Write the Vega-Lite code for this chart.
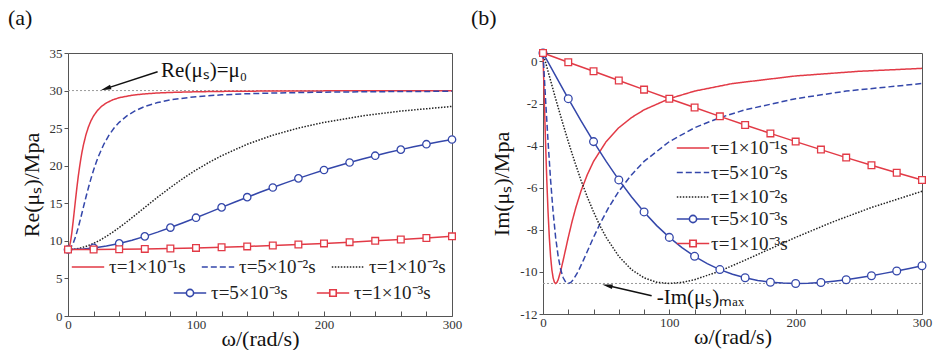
{
"$schema": "https://vega.github.io/schema/vega-lite/v6.json",
"padding": {"left": 7, "right": 0, "top": 6, "bottom": 0},
"spacing": 7,
"background": "white",
"config": {
  "font": "Liberation Serif",
  "view": {"stroke": "#555", "strokeWidth": 1},
  "axis": {"grid": false, "domain": false, "labelFont": "Liberation Serif", "labelFontSize": 13, "labelColor": "#333", "titleFont": "Liberation Serif", "titleFontSize": 22, "titleFontWeight": "normal", "titleColor": "#111", "tickColor": "#555", "labelPadding": 2, "labelOverlap": false, "labelFlush": false},
  "legend": {"labelFont": "Liberation Serif", "labelFontSize": 19, "labelColor": "#222", "title": null, "symbolSize": 324, "symbolStrokeWidth": 1.6, "symbolType": "M-1.8,0H1.8"},
  "title": {"font": "Liberation Serif", "fontSize": 22, "fontWeight": "normal", "color": "#111", "anchor": "start", "frame": "group", "offset": 17}
},
"datasets": {
 "curves": [
  {"t":"A","w":0,"re":8.85,"im":0.4},{"t":"A","w":1,"re":9.13,"im":-1.77},{"t":"A","w":2,"re":9.91,"im":-3.81},{"t":"A","w":3,"re":11.10,"im":-5.63},{"t":"A","w":4,"re":12.54,"im":-7.15},{"t":"A","w":5,"re":14.11,"im":-8.36},{"t":"A","w":6,"re":15.67,"im":-9.26},{"t":"A","w":7,"re":17.17,"im":-9.89},{"t":"A","w":8,"re":18.55,"im":-10.28},{"t":"A","w":9,"re":19.79,"im":-10.49},{"t":"A","w":10,"re":20.89,"im":-10.55},{"t":"A","w":11,"re":21.87,"im":-10.50},{"t":"A","w":12,"re":22.72,"im":-10.37},{"t":"A","w":14,"re":24.11,"im":-9.96},{"t":"A","w":16,"re":25.18,"im":-9.44},{"t":"A","w":18,"re":26.00,"im":-8.90},{"t":"A","w":20,"re":26.64,"im":-8.36},{"t":"A","w":23,"re":27.35,"im":-7.61},{"t":"A","w":26,"re":27.87,"im":-6.94},{"t":"A","w":30,"re":28.36,"im":-6.17},{"t":"A","w":35,"re":28.77,"im":-5.39},{"t":"A","w":40,"re":29.05,"im":-4.75},{"t":"A","w":50,"re":29.38,"im":-3.81},{"t":"A","w":60,"re":29.56,"im":-3.15},{"t":"A","w":70,"re":29.68,"im":-2.67},{"t":"A","w":80,"re":29.75,"im":-2.30},{"t":"A","w":100,"re":29.84,"im":-1.77},{"t":"A","w":120,"re":29.89,"im":-1.41},{"t":"A","w":150,"re":29.93,"im":-1.05},{"t":"A","w":200,"re":29.96,"im":-0.69},{"t":"A","w":250,"re":29.97,"im":-0.47},{"t":"A","w":300,"re":29.98,"im":-0.33},
  {"t":"B","w":0,"re":8.85,"im":0.4},{"t":"B","w":2,"re":9.06,"im":-1.77},{"t":"B","w":4,"re":9.66,"im":-3.81},{"t":"B","w":6,"re":10.60,"im":-5.63},{"t":"B","w":8,"re":11.77,"im":-7.15},{"t":"B","w":10,"re":13.08,"im":-8.36},{"t":"B","w":12,"re":14.45,"im":-9.26},{"t":"B","w":14,"re":15.81,"im":-9.89},{"t":"B","w":16,"re":17.10,"im":-10.28},{"t":"B","w":18,"re":18.32,"im":-10.49},{"t":"B","w":20,"re":19.43,"im":-10.55},{"t":"B","w":22,"re":20.43,"im":-10.50},{"t":"B","w":24,"re":21.33,"im":-10.37},{"t":"B","w":28,"re":22.86,"im":-9.96},{"t":"B","w":32,"re":24.06,"im":-9.44},{"t":"B","w":36,"re":25.01,"im":-8.90},{"t":"B","w":40,"re":25.77,"im":-8.36},{"t":"B","w":46,"re":26.64,"im":-7.61},{"t":"B","w":52,"re":27.27,"im":-6.94},{"t":"B","w":60,"re":27.89,"im":-6.17},{"t":"B","w":70,"re":28.40,"im":-5.39},{"t":"B","w":80,"re":28.76,"im":-4.75},{"t":"B","w":100,"re":29.19,"im":-3.81},{"t":"B","w":120,"re":29.43,"im":-3.15},{"t":"B","w":140,"re":29.58,"im":-2.67},{"t":"B","w":160,"re":29.67,"im":-2.30},{"t":"B","w":200,"re":29.79,"im":-1.77},{"t":"B","w":240,"re":29.85,"im":-1.41},{"t":"B","w":300,"re":29.91,"im":-1.05},
  {"t":"C","w":0,"re":8.85,"im":0.4},{"t":"C","w":5,"re":8.90,"im":-0.69},{"t":"C","w":10,"re":9.06,"im":-1.77},{"t":"C","w":15,"re":9.32,"im":-2.81},{"t":"C","w":20,"re":9.66,"im":-3.81},{"t":"C","w":25,"re":10.09,"im":-4.75},{"t":"C","w":30,"re":10.60,"im":-5.63},{"t":"C","w":35,"re":11.16,"im":-6.43},{"t":"C","w":40,"re":11.77,"im":-7.15},{"t":"C","w":45,"re":12.41,"im":-7.80},{"t":"C","w":50,"re":13.08,"im":-8.36},{"t":"C","w":60,"re":14.45,"im":-9.26},{"t":"C","w":70,"re":15.81,"im":-9.89},{"t":"C","w":80,"re":17.10,"im":-10.28},{"t":"C","w":90,"re":18.32,"im":-10.49},{"t":"C","w":100,"re":19.43,"im":-10.55},{"t":"C","w":110,"re":20.43,"im":-10.50},{"t":"C","w":120,"re":21.33,"im":-10.37},{"t":"C","w":140,"re":22.86,"im":-9.96},{"t":"C","w":160,"re":24.06,"im":-9.44},{"t":"C","w":180,"re":25.01,"im":-8.90},{"t":"C","w":200,"re":25.77,"im":-8.36},{"t":"C","w":230,"re":26.64,"im":-7.61},{"t":"C","w":260,"re":27.27,"im":-6.94},{"t":"C","w":300,"re":27.89,"im":-6.17},
  {"t":"D","w":0,"re":8.85,"im":0.4},{"t":"D","w":10,"re":8.90,"im":-0.69},{"t":"D","w":20,"re":9.06,"im":-1.77},{"t":"D","w":30,"re":9.32,"im":-2.81},{"t":"D","w":40,"re":9.66,"im":-3.81},{"t":"D","w":50,"re":10.09,"im":-4.75},{"t":"D","w":60,"re":10.60,"im":-5.63},{"t":"D","w":70,"re":11.16,"im":-6.43},{"t":"D","w":80,"re":11.77,"im":-7.15},{"t":"D","w":90,"re":12.41,"im":-7.80},{"t":"D","w":100,"re":13.08,"im":-8.36},{"t":"D","w":110,"re":13.76,"im":-8.85},{"t":"D","w":120,"re":14.45,"im":-9.26},{"t":"D","w":130,"re":15.13,"im":-9.61},{"t":"D","w":140,"re":15.81,"im":-9.89},{"t":"D","w":150,"re":16.46,"im":-10.11},{"t":"D","w":160,"re":17.10,"im":-10.28},{"t":"D","w":170,"re":17.72,"im":-10.41},{"t":"D","w":180,"re":18.32,"im":-10.49},{"t":"D","w":190,"re":18.88,"im":-10.53},{"t":"D","w":200,"re":19.43,"im":-10.55},{"t":"D","w":210,"re":19.94,"im":-10.54},{"t":"D","w":220,"re":20.43,"im":-10.50},{"t":"D","w":230,"re":20.89,"im":-10.44},{"t":"D","w":240,"re":21.33,"im":-10.37},{"t":"D","w":250,"re":21.75,"im":-10.28},{"t":"D","w":260,"re":22.14,"im":-10.18},{"t":"D","w":270,"re":22.51,"im":-10.07},{"t":"D","w":280,"re":22.86,"im":-9.96},{"t":"D","w":290,"re":23.18,"im":-9.84},{"t":"D","w":300,"re":23.49,"im":-9.71},
  {"t":"E","w":0,"re":8.85,"im":0.4},{"t":"E","w":20,"re":8.86,"im":-0.04},{"t":"E","w":40,"re":8.88,"im":-0.47},{"t":"E","w":60,"re":8.93,"im":-0.91},{"t":"E","w":80,"re":8.98,"im":-1.34},{"t":"E","w":100,"re":9.06,"im":-1.77},{"t":"E","w":120,"re":9.15,"im":-2.19},{"t":"E","w":140,"re":9.26,"im":-2.61},{"t":"E","w":160,"re":9.38,"im":-3.02},{"t":"E","w":180,"re":9.51,"im":-3.42},{"t":"E","w":200,"re":9.66,"im":-3.81},{"t":"E","w":220,"re":9.83,"im":-4.19},{"t":"E","w":240,"re":10.00,"im":-4.57},{"t":"E","w":260,"re":10.19,"im":-4.93},{"t":"E","w":280,"re":10.39,"im":-5.29},{"t":"E","w":300,"re":10.60,"im":-5.63}
 ]
},
"resolve": {"scale": {"x": "independent", "y": "independent", "color": "independent", "strokeDash": "independent"}, "legend": {"color": "independent", "strokeDash": "independent"}},
"hconcat": [
 {
  "width": 384, "height": 263,
  "title": {"text": "(a)", "dx": -60},
  "encoding": {
    "x": {"field": "w", "type": "quantitative", "scale": {"domain": [0, 300], "nice": false}, "axis": {"values": [0,20,40,60,80,100,120,140,160,180,200,220,240,260,280,300], "labelExpr": "datum.value % 100 === 0 ? datum.label : ''", "tickSize": -5, "labelPadding": 7, "title": "ω/(rad/s)", "titlePadding": -3}},
    "y": {"field": "re", "type": "quantitative", "scale": {"domain": [0, 35], "nice": false}, "axis": {"values": [0,5,10,15,20,25,30,35], "tickSize": 4, "title": "Re(μₛ)/Mpa", "titlePadding": 6}}
  },
  "layer": [
    {"data": {"values": [{"w": 0, "re": 30}, {"w": 300, "re": 30}]}, "mark": {"type": "line", "color": "#999", "strokeDash": [2, 2], "strokeWidth": 1}},
    {"data": {"name": "curves"}, "transform": [{"filter": {"field": "t", "oneOf": ["A", "B", "C"]}}],
     "mark": {"type": "line", "strokeWidth": 1.5},
     "encoding": {
       "color": {"field": "t", "type": "nominal", "scale": {"domain": ["A", "B", "C"], "range": ["#e23a46", "#3447aa", "#222222"]},
         "legend": {"orient": "none", "legendX": 10, "legendY": 204, "columns": 3, "columnPadding": 12, "labelOffset": 11,
           "labelExpr": "datum.label === 'A' ? 'τ=1×10⁻¹s' : datum.label === 'B' ? 'τ=5×10⁻²s' : 'τ=1×10⁻²s'"}},
       "strokeDash": {"field": "t", "type": "nominal", "scale": {"domain": ["A", "B", "C"], "range": [[1, 0], [6, 3], [1.5, 1.5]]},
         "legend": {"orient": "none", "legendX": 10, "legendY": 204, "columns": 3, "columnPadding": 12, "labelOffset": 11,
           "labelExpr": "datum.label === 'A' ? 'τ=1×10⁻¹s' : datum.label === 'B' ? 'τ=5×10⁻²s' : 'τ=1×10⁻²s'"}}
     }},
    {"data": {"name": "curves"}, "transform": [{"filter": {"field": "t", "oneOf": ["D", "E"]}}],
     "mark": {"type": "line", "strokeWidth": 1.5},
     "encoding": {
       "color": {"field": "t", "type": "nominal", "scale": {"domain": ["D", "E"], "range": ["#3447aa", "#e23a46"]},
         "legend": {"orient": "none", "legendX": 112, "legendY": 230, "columns": 2, "columnPadding": 25, "labelOffset": 11,
           "labelExpr": "datum.label === 'D' ? 'τ=5×10⁻³s' : 'τ=1×10⁻³s'",
           "encode": {"symbols": {"update": {"fill": {"value": "white"}, "shape": {"signal": "datum.value === 'D' ? 'M-1.8,0H-0.4M0.4,0H1.8M-0.4,0A0.4,0.4 0 1,1 0.4,0A0.4,0.4 0 1,1 -0.4,0' : 'M-1.8,0H-0.36M0.36,0H1.8M-0.36,-0.36H0.36V0.36H-0.36Z'"}}}}}}
     }},
    {"data": {"name": "curves"}, "transform": [{"filter": "datum.t === 'D' && datum.w % 20 === 0"}],
     "mark": {"type": "point", "shape": "circle", "filled": true, "fill": "white", "stroke": "#3447aa", "strokeWidth": 1.3, "size": 55, "opacity": 1}},
    {"data": {"name": "curves"}, "transform": [{"filter": "datum.t === 'E' && datum.w % 20 === 0"}],
     "mark": {"type": "point", "shape": "square", "filled": true, "fill": "white", "stroke": "#e23a46", "strokeWidth": 1.3, "size": 45, "opacity": 1}},
    {"data": {"values": [{"w": 70, "re": 32.5, "w2": 29.5, "re2": 30.26}]}, "mark": {"type": "rule", "color": "#111", "strokeWidth": 1.5},
     "encoding": {"x2": {"field": "w2"}, "y2": {"field": "re2"}}},
    {"data": {"values": [{"w": 29.5, "re": 30.26}]}, "mark": {"type": "point", "shape": "M0,-1L0.45,1L-0.45,1Z", "filled": true, "color": "#111", "size": 110, "angle": 252, "opacity": 1}},
    {"data": {"values": [{"w": 72.7, "re": 32.6, "label": "Re(μₛ)=μ₀"}]}, "mark": {"type": "text", "align": "left", "baseline": "middle", "fontSize": 21, "font": "Liberation Serif", "color": "#111"},
     "encoding": {"text": {"field": "label"}}}
  ],
  "resolve": {"scale": {"color": "independent", "strokeDash": "independent"}, "legend": {"color": "independent", "strokeDash": "independent"}}
 },
 {
  "width": 379, "height": 261,
  "title": {"text": "(b)", "dx": -72},
  "encoding": {
    "x": {"field": "w", "type": "quantitative", "scale": {"domain": [0, 300], "nice": false}, "axis": {"values": [0,20,40,60,80,100,120,140,160,180,200,220,240,260,280,300], "labelExpr": "datum.value % 100 === 0 ? datum.label : ''", "tickSize": -5, "labelPadding": 7, "title": "ω/(rad/s)", "titlePadding": -3}},
    "y": {"field": "im", "type": "quantitative", "scale": {"domain": [-12, 0.4], "nice": false}, "axis": {"values": [-12,-10,-8,-6,-4,-2,0], "labelExpr": "replace(datum.label, '−', '-')", "tickSize": 4, "title": "Im(μₛ)/Mpa", "titlePadding": 6}}
  },
  "layer": [
    {"data": {"values": [{"w": 0, "im": -10.55}, {"w": 300, "im": -10.55}]}, "mark": {"type": "line", "color": "#999", "strokeDash": [2, 2], "strokeWidth": 1}},
    {"data": {"name": "curves"}, "transform": [{"filter": {"field": "t", "oneOf": ["A", "B", "C"]}}],
     "mark": {"type": "line", "strokeWidth": 1.5},
     "encoding": {
       "color": {"field": "t", "type": "nominal", "scale": {"domain": ["A", "B", "C"], "range": ["#e23a46", "#3447aa", "#222222"]},
         "legend": {"orient": "none", "legendX": 140, "legendY": 85, "columns": 1, "rowPadding": 4.5, "labelOffset": 8,
           "labelExpr": "datum.label === 'A' ? 'τ=1×10⁻¹s' : datum.label === 'B' ? 'τ=5×10⁻²s' : 'τ=1×10⁻²s'"}},
       "strokeDash": {"field": "t", "type": "nominal", "scale": {"domain": ["A", "B", "C"], "range": [[1, 0], [6, 3], [1.5, 1.5]]},
         "legend": {"orient": "none", "legendX": 140, "legendY": 85, "columns": 1, "rowPadding": 4.5, "labelOffset": 8,
           "labelExpr": "datum.label === 'A' ? 'τ=1×10⁻¹s' : datum.label === 'B' ? 'τ=5×10⁻²s' : 'τ=1×10⁻²s'"}}
     }},
    {"data": {"name": "curves"}, "transform": [{"filter": {"field": "t", "oneOf": ["D", "E"]}}],
     "mark": {"type": "line", "strokeWidth": 1.5},
     "encoding": {
       "color": {"field": "t", "type": "nominal", "scale": {"domain": ["D", "E"], "range": ["#3447aa", "#e23a46"]},
         "legend": {"orient": "none", "legendX": 140, "legendY": 156, "columns": 1, "rowPadding": 4.5, "labelOffset": 8,
           "labelExpr": "datum.label === 'D' ? 'τ=5×10⁻³s' : 'τ=1×10⁻³s'",
           "encode": {"symbols": {"update": {"fill": {"value": "white"}, "shape": {"signal": "datum.value === 'D' ? 'M-1.8,0H-0.4M0.4,0H1.8M-0.4,0A0.4,0.4 0 1,1 0.4,0A0.4,0.4 0 1,1 -0.4,0' : 'M-1.8,0H-0.36M0.36,0H1.8M-0.36,-0.36H0.36V0.36H-0.36Z'"}}}}}}
     }},
    {"data": {"name": "curves"}, "transform": [{"filter": "datum.t === 'D' && datum.w % 20 === 0"}],
     "mark": {"type": "point", "shape": "circle", "filled": true, "fill": "white", "stroke": "#3447aa", "strokeWidth": 1.3, "size": 60, "opacity": 1}},
    {"data": {"name": "curves"}, "transform": [{"filter": "datum.t === 'E' && datum.w % 20 === 0"}],
     "mark": {"type": "point", "shape": "square", "filled": true, "fill": "white", "stroke": "#e23a46", "strokeWidth": 1.3, "size": 45, "opacity": 1}},
    {"data": {"values": [{"w": 86, "im": -11.13, "w2": 50.9, "im2": -10.65}]}, "mark": {"type": "rule", "color": "#111", "strokeWidth": 1.5},
     "encoding": {"x2": {"field": "w2"}, "y2": {"field": "im2"}}},
    {"data": {"values": [{"w": 50.9, "im": -10.65}]}, "mark": {"type": "point", "shape": "M0,-1L0.45,1L-0.45,1Z", "filled": true, "color": "#111", "size": 110, "angle": 283, "opacity": 1}},
    {"data": {"values": [{"w": 90, "im": -11.23, "label": "-Im(μₛ)ₘₐₓ"}]}, "mark": {"type": "text", "align": "left", "baseline": "middle", "fontSize": 21, "font": "Liberation Serif", "color": "#111"},
     "encoding": {"text": {"field": "label"}}}
  ],
  "resolve": {"scale": {"color": "independent", "strokeDash": "independent"}, "legend": {"color": "independent", "strokeDash": "independent"}}
 }
]
}
